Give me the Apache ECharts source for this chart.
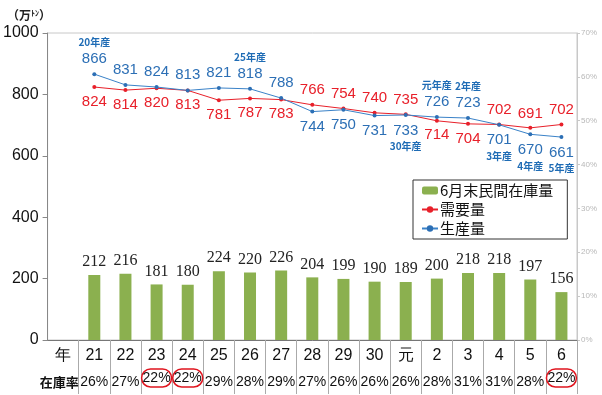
<!DOCTYPE html>
<html><head><meta charset="utf-8">
<script src="https://cdn.jsdelivr.net/npm/echarts@6/dist/echarts.min.js"></script>
<style>html,body{margin:0;padding:0;background:#fff}#c{width:602px;height:395px}</style>
</head><body><div id="c"></div>
<script>
const headerLabel = '年';
const rateHeader = '在庫率';
const years = ['21','22','23','24','25','26','27','28','29','30','元','2','3','4','5','6'];
const stock = [212,216,181,180,224,220,226,204,199,190,189,200,218,218,197,156];
const demand = [824,814,820,813,781,787,783,766,754,740,735,714,704,702,691,702];
const production = [866,831,824,813,821,818,788,744,750,731,733,726,723,701,670,661];
const stockRate = [26,27,22,22,29,28,29,27,26,26,26,28,31,31,28,22];
const cropYears = {'21':'20年産','26':'25年産','元':'30年産','2':'元年産','3':'2年産','4':'3年産','5':'4年産','6':'5年産'};
const leftTicks = [0,200,400,600,800,1000];
const rightTicks = [0,10,20,30,40,50,60,70];

const cats = [headerLabel].concat(years);
const minRate = Math.min.apply(null, stockRate);
const NUM = "'Liberation Sans',Arial,sans-serif";
const CJK = "'Noto Sans CJK JP','Noto Sans',sans-serif";

const barData = ['-'].concat(stock);
const demandData = ['-'].concat(demand.map((v,i)=>({
  value:v,
  label:{position: production[i] >= v ? 'bottom' : 'top'}
})));
const prodData = ['-'].concat(production.map((v,i)=>{
  const top = v >= demand[i];
  const ann = cropYears[years[i]];
  let fmt;
  if (ann) fmt = top ? '{a|'+ann+'}\n{v|'+v+'}' : '{v|'+v+'}\n{a|'+ann+'}';
  else fmt = '{v|'+v+'}';
  return {value:v, label:{position: top ? 'top' : 'bottom', formatter: fmt}};
}));

const chart = echarts.init(document.getElementById('c'), null, {renderer:'canvas'});
chart.setOption({
  animation:false,
  backgroundColor:'#fff',
  title:{
    text:'（万{s|ﾄﾝ}）', left:2, top:4,
    textStyle:{fontSize:12, fontWeight:'bold', color:'#222', fontFamily:CJK,
      rich:{s:{fontSize:8, fontWeight:'bold', color:'#222', verticalAlign:'top', fontFamily:CJK}}}
  },
  grid:{left:45, right:25, top:33, bottom:55, show:true, borderColor:'#c8c8c8', borderWidth:1},
  legend:{
    orient:'vertical', left:413, top:180,
    backgroundColor:'#fff', borderColor:'#333', borderWidth:1,
    padding:[3,14,3,8], itemGap:4, itemWidth:16, itemHeight:8,
    textStyle:{fontSize:15, color:'#111', fontFamily:CJK, padding:[0,0,0,-3]},
    data:['6月末民間在庫量','需要量','生産量']
  },
  xAxis:{
    type:'category', data:cats, boundaryGap:true,
    axisLine:{lineStyle:{color:'#777', width:1}},
    axisTick:{show:true, length:54, interval:(idx)=>idx!==0, lineStyle:{color:'#aaa'}},
    axisLabel:{
      interval:0, margin:3,
      formatter:(val, idx)=>{
        if (idx === 0) return '{y|'+val+'}\n{h|'+rateHeader+'}';
        const r = stockRate[idx-1];
        return '{y|'+val+'}\n' + (r === minRate ? '{c|'+r+'%}' : '{r|'+r+'%}');
      },
      rich:{
        y:{fontSize:16, fontFamily:NUM, color:'#111', lineHeight:26, height:26},
        h:{fontSize:13, fontWeight:'bold', fontFamily:CJK, color:'#111', lineHeight:26, padding:[0,8,0,0]},
        r:{fontSize:14, fontFamily:NUM, color:'#111', lineHeight:26},
        c:{fontSize:14, fontFamily:NUM, color:'#111', lineHeight:18, height:18, width:26, align:'center',
           borderColor:'#e0141e', borderWidth:1.5, borderRadius:13, padding:[0,2]}
      }
    }
  },
  yAxis:[{
    type:'value', min:0, max:1000, interval:200,
    axisLine:{show:true, lineStyle:{color:'#888'}},
    axisTick:{show:true, length:5, lineStyle:{color:'#888'}},
    splitLine:{show:false},
    axisLabel:{fontSize:16, fontFamily:NUM, color:'#111', margin:9,
      formatter:v=>leftTicks.indexOf(v)>=0 ? String(v) : ''}
  },{
    type:'value', min:0, max:0.7, interval:0.1, position:'right',
    axisLine:{show:true, lineStyle:{color:'#c8c8c8'}},
    axisTick:{show:true, length:3, lineStyle:{color:'#c8c8c8'}},
    splitLine:{show:false},
    axisLabel:{fontSize:8, color:'#b8b8b8', margin:4, fontFamily:NUM,
      formatter:v=>{const p=Math.round(v*100); return rightTicks.indexOf(p)>=0 ? p+'%' : '';}}
  }],
  series:[{
    name:'6月末民間在庫量', type:'bar', data:barData, barWidth:12,
    itemStyle:{color:'#8bb04f'},
    label:{show:true, position:'top', distance:5, fontSize:16, color:'#222',
      fontFamily:"'Liberation Serif','DejaVu Serif',serif"}
  },{
    name:'需要量', type:'line', data:demandData, symbol:'circle', symbolSize:4,
    itemStyle:{color:'#e8202a'}, lineStyle:{color:'#e8202a', width:1},
    label:{show:true, distance:5, fontSize:15, fontFamily:NUM, color:'#e8202a'}
  },{
    name:'生産量', type:'line', data:prodData, symbol:'circle', symbolSize:4,
    itemStyle:{color:'#2c6fb5'}, lineStyle:{color:'#3a82c8', width:1},
    label:{show:true, distance:5, color:'#2c6fb5',
      rich:{
        v:{fontSize:15, fontFamily:NUM, color:'#2c6fb5', lineHeight:17},
        a:{fontSize:10, fontWeight:'bold', fontFamily:CJK, color:'#1f6cb5', lineHeight:15}
      }}
  }]
});
</script></body></html>
